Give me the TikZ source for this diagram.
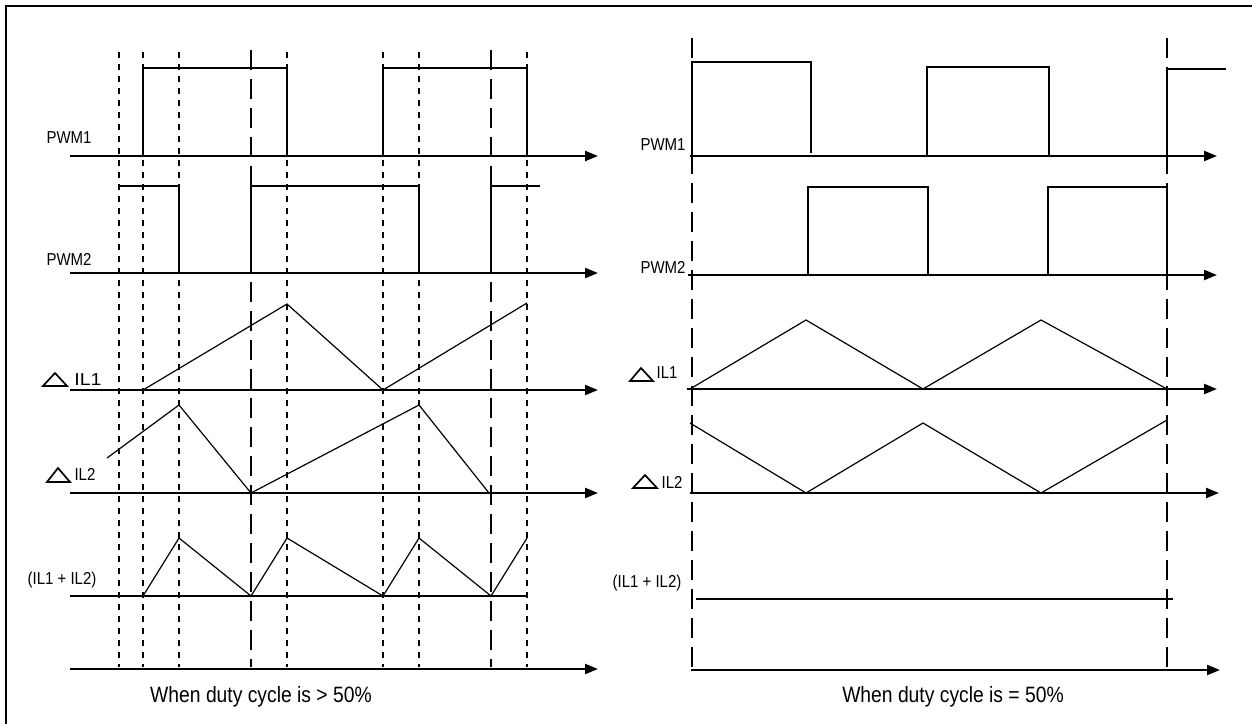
\documentclass[tikz,border=0pt]{standalone}
\usepackage{graphicx}
\usepackage{fontspec}
\setmainfont{Liberation Sans}
\usetikzlibrary{arrows.meta}
\newcommand\vstretch[2][1]{\scalebox{#1}[1.15]{#2}}
\begin{document}
\begin{tikzpicture}[x=1pt,y=-1pt,
  axis/.style={line width=2.3pt,-{Triangle[length=13pt,width=10pt]}},
  plainaxis/.style={line width=2.3pt},
  pwm/.style={line width=2.3pt},
  wave/.style={line width=1.2pt},
  sdash/.style={line width=2.3pt,dash pattern=on 6pt off 6pt},
  ldash/.style={line width=2.3pt,dash pattern=on 20pt off 9pt},
  lbl/.style={font=\fontsize{15}{17}\selectfont, inner sep=0pt},
  capt/.style={font=\fontsize{19.3}{22}\selectfont, inner sep=0pt},
  tri/.style={line width=1.7pt, line join=miter}]
\useasboundingbox (0,0) rectangle (1252,724);
% frame
\draw[line width=2.3pt] (1252,6) -- (6,6) -- (6,724);

% ---------------- left panel ----------------
\foreach \x in {119,143,179,287,383,419,527}
  \draw[sdash] (\x,52) -- (\x,667);
\foreach \x in {251,491}
  \draw[ldash] (\x,50) -- (\x,667);

% PWM1
\draw[axis] (70,156) -- (598,156);
\draw[pwm] (143,156) |- (287,68) -- (287,156);
\draw[pwm] (383,156) |- (527,68) -- (527,156);
% PWM2
\draw[axis] (70,273) -- (598,273);
\draw[pwm] (119,186) -- (179,186) -- (179,273);
\draw[pwm] (251,273) |- (419,186) -- (419,273);
\draw[pwm] (491,273) |- (540,186);
% IL1
\draw[axis] (70,390) -- (598,390);
\draw[wave] (143,390) -- (287,304) -- (383,390) -- (527,303);
% IL2
\draw[axis] (70,493) -- (598,493);
\draw[wave] (107,458) -- (179,405) -- (251,493) -- (419,405) -- (489,493);
% IL1+IL2
\draw[plainaxis] (70,596) -- (528,596);
\draw[wave] (143,596) -- (179,538) -- (251,596) -- (287,538) -- (383,596)
  -- (419,538) -- (491,596) -- (527,538);
% bottom
\draw[axis] (70,669) -- (598,669);

% labels left
\node[lbl] (lpwm1) at (69,138) {\vstretch{PWM1}};
\node[lbl] (lpwm2) at (69,259) {\vstretch{PWM2}};
\draw[tri] (43,386) -- (55,373) -- (67,386) -- cycle;
\node[lbl] (lil1) at (88,380) {\vstretch[1.3]{IL1}};
\draw[tri] (47,482) -- (58,468) -- (70,482) -- cycle;
\node[lbl] (lil2) at (85,474) {\vstretch{IL2}};
\node[lbl] (lsum) at (62,580) {\vstretch{(IL1 + IL2)}};
\node[capt] (lcap) at (261,697) {\vstretch{When duty cycle is > 50\%}};

% ---------------- right panel ----------------
\foreach \x in {692,1167}
  \draw[ldash] (\x,38) -- (\x,670);

% PWM1
\draw[axis] (690,156) -- (1217,156);
\draw[pwm] (692,156) -- (692,62) -- (811,62) -- (811,153);
\draw[pwm] (927,156) |- (1049,67) -- (1049,156);
\draw[pwm] (1167,156) |- (1226,69);
% PWM2
\draw[axis] (688,275) -- (1217,275);
\draw[pwm] (808,275) |- (928,187) -- (928,275);
\draw[pwm] (1048,275) |- (1167,187) -- (1167,275);
% IL1
\draw[axis] (687,389) -- (1217,389);
\draw[wave] (690,389) -- (806,320) -- (923,389) -- (1041,320) -- (1167,389);
% IL2
\draw[axis] (690,493) -- (1219,493);
\draw[wave] (690,423) -- (806,493) -- (923,423) -- (1041,493) -- (1167,420);
% IL1+IL2
\draw[plainaxis] (696,599) -- (1173,599);
% bottom
\draw[axis] (691,670) -- (1220,670);

% labels right
\node[lbl] (rpwm1) at (663,145) {\vstretch{PWM1}};
\node[lbl] (rpwm2) at (663,267) {\vstretch{PWM2}};
\draw[tri] (630,381) -- (641,368) -- (653,381) -- cycle;
\node[lbl] (ril1) at (667,373) {\vstretch{IL1}};
\draw[tri] (633,488) -- (645,475) -- (657,488) -- cycle;
\node[lbl] (ril2) at (672,482) {\vstretch{IL2}};
\node[lbl] (rsum) at (647,583) {\vstretch{(IL1 + IL2)}};
\node[capt] (rcap) at (953,697) {\vstretch{When duty cycle is = 50\%}};
\end{tikzpicture}
\end{document}
